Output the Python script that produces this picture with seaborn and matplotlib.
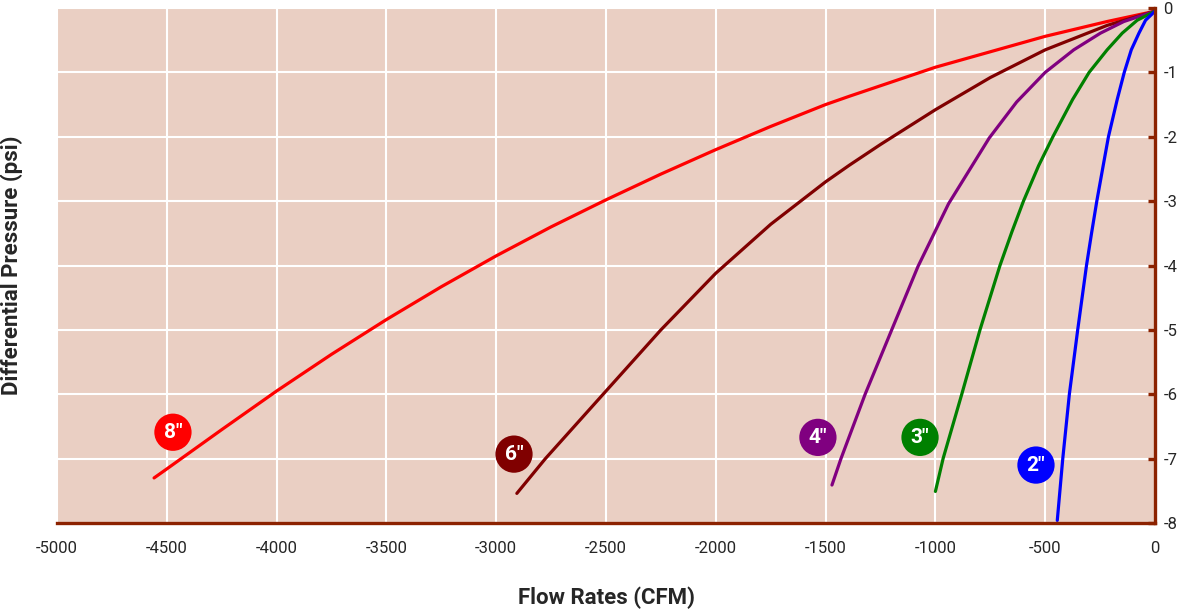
import pandas as pd
import seaborn as sns
import matplotlib.pyplot as plt

# values (flow in CFM, pressure in psi)
red_x = [0, -218, -500, -1000, -1391, -1500, -1750, -2000, -2250, -2500,
         -2750, -3000, -3250, -3500, -3750, -4000, -4250, -4500, -4558]
red_y = [-0.05, -0.21, -0.44, -0.92, -1.37, -1.50, -1.84, -2.20, -2.58, -2.98,
         -3.40, -3.85, -4.33, -4.84, -5.38, -5.95, -6.55, -7.16, -7.30]

maroon_x = [0, -218, -500, -750, -1000, -1250, -1391, -1500, -1750, -2000,
            -2250, -2500, -2776, -2906]
maroon_y = [-0.05, -0.27, -0.65, -1.08, -1.58, -2.12, -2.44, -2.70, -3.36, -4.12,
            -5.0, -5.95, -7.0, -7.54]

purple_x = [0, -142, -248, -370, -500, -630, -755, -940, -1080, -1199, -1320, -1430, -1471]
purple_y = [-0.05, -0.21, -0.39, -0.65, -1.0, -1.46, -2.02, -3.04, -4.02, -5.0, -6.0, -7.0, -7.41]

green_x = [0, -81, -149, -218, -300, -375, -465, -530, -599, -652, -706, -797, -880, -965, -1000]
green_y = [-0.05, -0.19, -0.39, -0.65, -1.0, -1.42, -2.0, -2.45, -3.0, -3.48, -4.0, -5.0, -6.0, -7.0, -7.51]

blue_x = [0, -43, -73, -108, -140, -172, -212, -236, -265, -289, -312, -352, -390, -420, -445]
blue_y = [-0.05, -0.19, -0.39, -0.65, -1.0, -1.42, -2.0, -2.45, -3.0, -3.5, -4.0, -5.0, -6.0, -7.0, -7.96]

sizes = ['8″', '6″', '4″', '3″', '2″']
colors = ['#ff0000', '#800000', '#800080', '#008000', '#0000ff']
badge_x = [-4472, -2919, -1535, -1070, -542]
badge_y = [-6.59, -6.93, -6.67, -6.67, -7.10]

x_ticks = list(range(-5000, 1, 500))
y_ticks = list(range(-8, 1))

series = {
    '8″': (red_x, red_y),
    '6″': (maroon_x, maroon_y),
    '4″': (purple_x, purple_y),
    '3″': (green_x, green_y),
    '2″': (blue_x, blue_y),
}
frames = []
for name, (xs, ys) in series.items():
    frames.append(pd.DataFrame({'flow': xs, 'pressure': ys, 'size': name}))
df = pd.concat(frames, ignore_index=True)

sns.set_style('white')
plt.rcParams['font.family'] = ['Roboto', 'DejaVu Sans']
plt.rcParams['axes.unicode_minus'] = False

spine_col = '#8c2200'
fig = plt.figure(figsize=(11.83, 6.14), dpi=100)
ax = fig.add_axes([57 / 1183, 1 - 523 / 614, 1098 / 1183, 515 / 614])
ax.set_facecolor('#eacfc3')

sns.lineplot(data=df, x='flow', y='pressure', hue='size', hue_order=sizes,
             palette=dict(zip(sizes, colors)), estimator=None, sort=False,
             linewidth=2.3, legend=False, ax=ax)
for line in ax.lines:
    line.set_solid_capstyle('round')
    line.set_solid_joinstyle('round')

ax.scatter(badge_x, badge_y, s=720, c=colors, zorder=5, linewidths=0)
for s, bx, by in zip(sizes, badge_x, badge_y):
    ax.text(bx, by, s, color='white', fontsize=15, fontweight='bold',
            ha='center', va='center', zorder=6)

ax.set_xlim(-5000, 0)
ax.set_ylim(-8, 0)
ax.set_xticks(x_ticks)
ax.set_yticks(y_ticks)
ax.grid(True, color='white', linewidth=1.5)
ax.set_axisbelow(True)

for side in ['top', 'left']:
    ax.spines[side].set_visible(False)
for side in ['bottom', 'right']:
    ax.spines[side].set_color(spine_col)
    ax.spines[side].set_linewidth(2.4)

ax.yaxis.tick_right()
ax.tick_params(axis='x', direction='out', length=5, width=2.4, color=spine_col,
               labelsize=12, pad=8)
ax.tick_params(axis='y', direction='in', length=5, width=2.4, color=spine_col,
               labelsize=12, pad=6)

ax.set_xlabel('')
ax.set_ylabel('')
fig.text(606 / 1183, 1 - 598 / 614, 'Flow Rates (CFM)', ha='center', va='center',
         fontsize=16, fontweight='bold')
fig.text(12 / 1183, 1 - 265 / 614, 'Differential Pressure (psi)', ha='center',
         va='center', rotation=90, fontsize=16, fontweight='bold')

fig.savefig('out.png', dpi=100)
